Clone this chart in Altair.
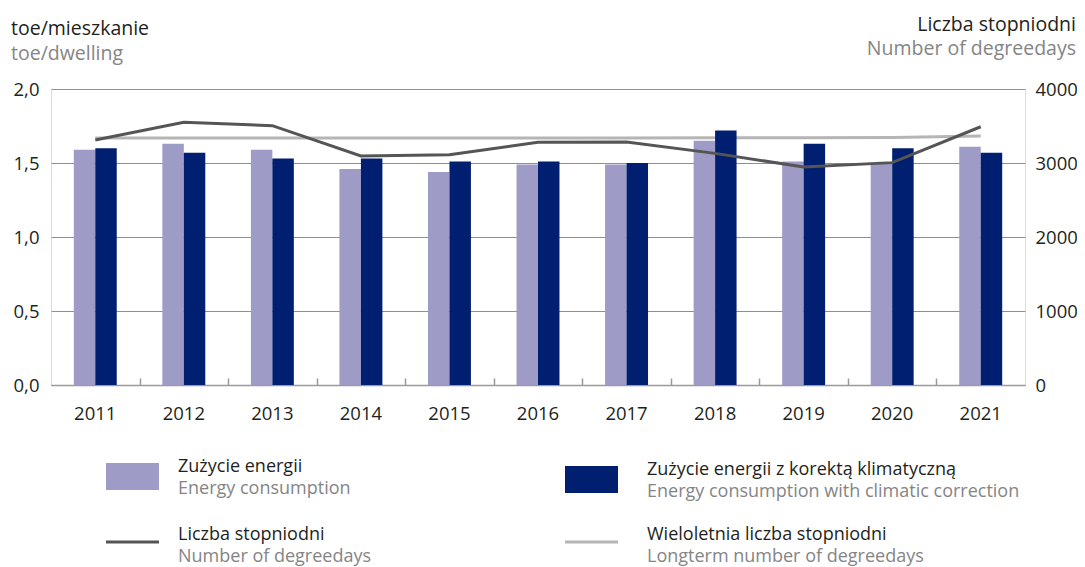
import altair as alt
import pandas as pd

# ---------------- data ----------------
years = [2011, 2012, 2013, 2014, 2015, 2016, 2017, 2018, 2019, 2020, 2021]
energy = [1.59, 1.63, 1.59, 1.46, 1.44, 1.49, 1.49, 1.65, 1.51, 1.50, 1.61]
energy_corrected = [1.60, 1.57, 1.53, 1.53, 1.51, 1.51, 1.50, 1.72, 1.63, 1.60, 1.57]
degreedays = [3310, 3550, 3505, 3095, 3110, 3280, 3285, 3130, 2945, 3005, 3490]
longterm = [3338, 3338, 3338, 3338, 3338, 3338, 3338, 3340, 3342, 3345, 3365]

series_pl = ["Zużycie energii", "Zużycie energii z korektą klimatyczną",
             "Liczba stopniodni", "Wieloletnia liczba stopniodni"]
series_en = ["Energy consumption", "Energy consumption with climatic correction",
             "Number of degreedays", "Longterm number of degreedays"]
left_title = ["toe/mieszkanie", "toe/dwelling"]
right_title = ["Liczba stopniodni", "Number of degreedays"]
left_ticks = [0, 0.5, 1.0, 1.5, 2.0]
right_ticks = [0, 1000, 2000, 3000, 4000]

# ---------------- styling ----------------
W, H = 974, 296
FONT = "Open Sans"
C_LIGHT = "#9e9bc7"
C_DARK = "#001f70"
C_LINE = "#555555"
C_LONG = "#b5b5b5"
C_TEXT = "#231f20"
C_GREY = "#858585"
C_GRID = "#8f8f8f"

bars_df = pd.DataFrame({
    "year": years * 2,
    "series": [series_pl[0]] * len(years) + [series_pl[1]] * len(years),
    "value": energy + energy_corrected,
})
lines_df = pd.DataFrame({"year": years, "degreedays": degreedays, "longterm": longterm})

step = W / len(years)
P_IN = 0.515
x_scale = alt.Scale(paddingInner=P_IN, paddingOuter=P_IN / 2)

bars = alt.Chart(bars_df).mark_bar().encode(
    x=alt.X("year:N", scale=x_scale, title=None,
            axis=alt.Axis(orient="bottom", labelAngle=0, ticks=False, domain=True,
                          domainColor="#9a9a9a", domainWidth=1.5,
                          labelFontSize=18.5, labelColor=C_TEXT, labelPadding=19,
                          labelFont=FONT)),
    xOffset=alt.XOffset("series:N", scale=alt.Scale(domain=series_pl[:2], paddingInner=0, paddingOuter=0)),
    y=alt.Y("value:Q", scale=alt.Scale(domain=[0, 2]), title=None,
            axis=alt.Axis(orient="left", values=left_ticks, grid=True, gridColor=C_GRID,
                          gridWidth=1, domain=False, ticks=False, labelFontSize=18.5,
                          labelColor=C_TEXT, labelPadding=12, labelFont=FONT,
                          labelExpr="replace(format(datum.value, '.1f'), '.', ',')")),
    color=alt.Color("series:N", scale=alt.Scale(domain=series_pl[:2], range=[C_LIGHT, C_DARK]),
                    legend=None),
)

long_line = alt.Chart(lines_df).mark_line(color=C_LONG, strokeWidth=3).encode(
    x=alt.X("year:N", title=None,
            axis=alt.Axis(orient="top", offset=-H, labels=False, domain=False, ticks=True,
                          tickSize=7, tickColor={"condition": {"test": "datum.value == 2011",
                                                               "value": "transparent"},
                                                 "value": "#9a9a9a"},
                          tickWidth=1.5, bandPosition=0.5, tickOffset=-step / 2)),
    y=alt.Y("longterm:Q", scale=alt.Scale(domain=[0, 4000]), axis=None),
)

deg_line = alt.Chart(lines_df).mark_line(color=C_LINE, strokeWidth=3).encode(
    x=alt.X("year:N", axis=None),
    y=alt.Y("degreedays:Q", scale=alt.Scale(domain=[0, 4000]), title=None,
            axis=alt.Axis(orient="right", values=right_ticks, grid=False, domain=False,
                          ticks=False, labelFontSize=18.5, labelColor=C_TEXT, labelPadding=10,
                          labelFont=FONT, format="d")),
)

X0, Y0 = 51, 89  # plot origin on the page


def text(t, px, py, color, size, align="left"):
    return alt.Chart(pd.DataFrame({"t": [t]})).mark_text(
        align=align, baseline="alphabetic", fontSize=size, color=color, font=FONT
    ).encode(text="t:N", x=alt.value(px - X0), y=alt.value(py - Y0))


def swatch(name, color, px1, px2, py1, py2):
    return alt.Chart(pd.DataFrame({"s": [name]})).mark_rect(color=color).encode(
        x=alt.value(px1 - X0), x2=alt.value(px2 - X0),
        y=alt.value(py1 - Y0), y2=alt.value(py2 - Y0))


def line_key(name, color, px1, px2, py):
    return alt.Chart(pd.DataFrame({"s": [name]})).mark_rule(color=color, strokeWidth=3).encode(
        x=alt.value(px1 - X0), x2=alt.value(px2 - X0), y=alt.value(py - Y0))


LF = 18
annotations = [
    text(left_title[0], 11, 34.5, C_TEXT, 19.5),
    text(left_title[1], 11, 59.5, C_GREY, 19.5),
    text(right_title[0], 1076, 30.5, C_TEXT, 19.5, "right"),
    text(right_title[1], 1076, 55, C_GREY, 19.5, "right"),
    swatch(series_pl[0], C_LIGHT, 106, 159, 463, 490),
    swatch(series_pl[1], C_DARK, 565, 618, 466, 493),
    line_key(series_pl[2], C_LINE, 106, 159, 542),
    line_key(series_pl[3], C_LONG, 565, 618, 542),
    text(series_pl[0], 178, 472, C_TEXT, LF),
    text(series_en[0], 178, 494, C_GREY, LF),
    text(series_pl[1], 647, 475, C_TEXT, LF),
    text(series_en[1], 647, 497, C_GREY, LF),
    text(series_pl[2], 178, 540, C_TEXT, LF),
    text(series_en[2], 178, 562, C_GREY, LF),
    text(series_pl[3], 647, 540, C_TEXT, LF),
    text(series_en[3], 647, 562, C_GREY, LF),
]

chart = alt.layer(long_line, bars, deg_line, *annotations).resolve_scale(
    y="independent", color="independent"
).resolve_axis(
    x="independent", y="independent"
).properties(
    width=W, height=H,
    autosize=alt.AutoSizeParams(type="none"),
    padding={"left": X0 - 8, "top": Y0 - 8, "right": 52, "bottom": 181},
).configure_view(stroke=None).configure(font=FONT)

chart.save("out.html", embed_options={"renderer": "svg", "actions": False})
